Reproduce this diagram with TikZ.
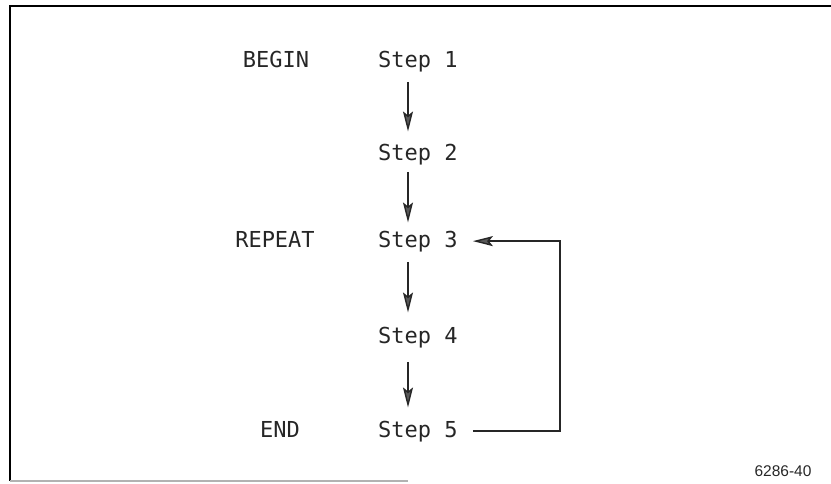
\documentclass[tikz,border=0pt]{standalone}
\usepackage{fontspec}
\usetikzlibrary{arrows.meta}
\newfontfamily\plotmono{DejaVu Sans Mono}
\newfontfamily\labsans{Liberation Sans}
\tikzset{
  x=1pt, y=-1pt,
  steptxt/.style={anchor=base west, inner sep=0pt, text=black!85, font=\plotmono\fontsize{22}{22}\selectfont},
  kwtxt/.style={anchor=base, inner sep=0pt, text=black!85, font=\plotmono\fontsize{22}{22}\selectfont},
  arr/.style={draw=black!85, line width=1.4pt, -{Stealth[length=20pt, width=10pt, inset=4pt, fill=black!65]}},
  frame/.style={draw=black, line width=2.2pt},
}
\begin{document}
\begin{tikzpicture}
\useasboundingbox (0,0) rectangle (831,483);
% frame
\draw[frame] (831,6) -- (10,6) -- (10,481);
\draw[draw=black!30, line width=1.2pt] (10,481) -- (408,481);
% keywords
\node[kwtxt] (kb) at (276,67) {BEGIN};
\node[kwtxt] (kr) at (275,247) {REPEAT};
\node[kwtxt] (ke) at (280,437) {END};
% steps
\node[steptxt] (s1) at (378,67) {Step 1};
\node[steptxt] (s2) at (378,160) {Step 2};
\node[steptxt] (s3) at (378,247) {Step 3};
\node[steptxt] (s4) at (378,343) {Step 4};
\node[steptxt] (s5) at (378,437) {Step 5};
\coordinate (ax) at (408,0);
\coordinate (lp) at (560,0);
% arrows
\draw[arr, shorten <=10pt, shorten >=12pt] (s1.south -| ax) -- (s2.north -| ax);
\draw[arr, shorten <=7pt, shorten >=8pt] (s2.south -| ax) -- (s3.north -| ax);
\draw[arr, shorten <=10pt, shorten >=14pt] (s3.south -| ax) -- (s4.north -| ax);
\draw[arr, shorten <=14pt, shorten >=13pt] (s4.south -| ax) -- (s5.north -| ax);
\draw[arr] ([xshift=15pt]s5.east) -| (lp |- s3.east) -- ([xshift=15pt]s3.east);
% figure number
\node[inner sep=0pt, text=black!85, font=\labsans\fontsize{15.5}{15.5}\selectfont] (fn) at (783,471) {6286-40};
\end{tikzpicture}
\end{document}
